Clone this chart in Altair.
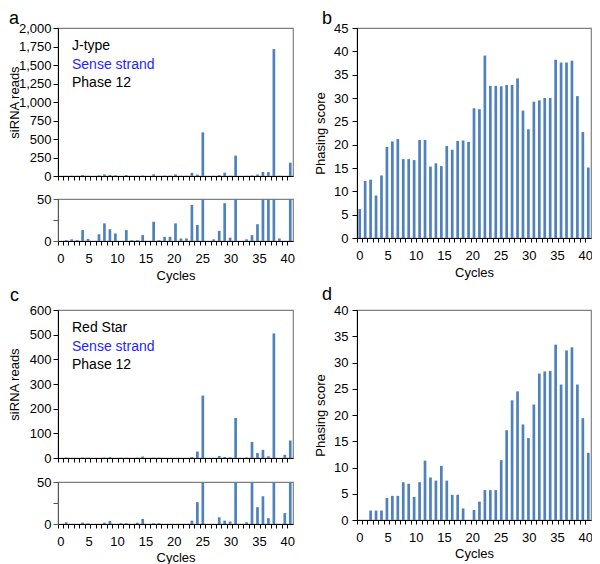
import altair as alt
import pandas as pd

# ---------------- data ----------------
cycle_index = list(range(43))
cycle_labels = [0, 5, 10, 15, 20, 25, 30, 35, 40]

a_reads = [0, 1, 2, 1, 13, 2.5, 0, 8, 21, 14,
           9, 0, 13, 1, 1, 7, 0, 23, 1, 5,
           5, 21, 3, 3, 43, 19, 590, 0, 2, 12,
           45, 4, 275, 0, 2, 7, 20, 55, 52, 1715,
           3, 0, 180]

b_scores = [6.2, 12.2, 12.5, 9.1, 13.4, 19.5, 20.7, 21.2, 16.9, 16.9,
            16.7, 21.0, 21.0, 15.3, 16.0, 15.4, 19.7, 18.9, 20.8, 20.9,
            20.6, 27.8, 27.6, 39.1, 32.6, 32.6, 32.5, 32.8, 32.8, 34.2,
            27.3, 23.3, 29.2, 29.5, 30.0, 30.0, 38.2, 37.6, 37.6, 38.0,
            30.4, 22.7, 15.1]

c_reads = [0, 2, 0, 0, 1.6, 0.8, 0, 0, 1.6, 3.5,
           0, 1, 1, 0, 1.6, 6, 0, 1, 1, 0,
           0, 0, 0, 0, 4, 26, 253, 0, 0, 8,
           4, 3, 162, 0, 2, 65, 20, 33, 7, 505,
           0, 13, 71]

d_scores = [0, 0, 1.8, 1.8, 1.8, 4.2, 4.6, 4.6, 7.2, 6.9,
            4.4, 7.2, 11.3, 8.1, 7.5, 10.3, 7.5, 4.8, 4.8, 2.2,
            0, 1.9, 3.5, 5.7, 5.7, 5.7, 11.4, 17.1, 22.8, 24.5,
            18.2, 15.6, 22.0, 27.9, 28.3, 28.4, 33.4, 25.8, 32.3, 32.9,
            25.8, 19.4, 12.8]

a_lines = ["J-type", "Sense strand", "Phase 12"]
c_lines = ["Red Star", "Sense strand", "Phase 12"]
line_colors = ["black", "#1f1fff", "black"]

BAR = "#4f81bd"
FONT = "Liberation Sans"
W_LEFT = 235
W_RIGHT = 234


def bar_layer(values, domain, yvalues, clamp=False, ytitle=None, title_x=-50,
              label_pad=2, label_expr=None, ydomain_color="black", fmt=None):
    df = pd.DataFrame({"idx": cycle_index, "v": values})
    yaxis_kw = dict(values=yvalues, tickSize=5, labelPadding=label_pad,
                    domainColor=ydomain_color, tickColor=ydomain_color, grid=False)
    if ytitle:
        yaxis_kw.update(title=ytitle, titleX=title_x, titleBaseline="top", titleAngle=-90)
    else:
        yaxis_kw.update(title=None)
    if label_expr:
        yaxis_kw.update(labelExpr=label_expr)
    if fmt:
        yaxis_kw.update(format=fmt)
    return alt.Chart(df).mark_bar(size=2.7, color=BAR).encode(
        x=alt.X("idx:O",
                scale=alt.Scale(paddingInner=0, paddingOuter=0),
                axis=alt.Axis(orient="bottom", labels=False, title=None, ticks=True,
                              tickSize=4, bandPosition=0, domainColor="black",
                              tickColor="black", domainWidth=1)),
        y=alt.Y("v:Q", scale=alt.Scale(domain=domain, clamp=clamp, nice=False, zero=True),
                axis=alt.Axis(**yaxis_kw)),
    )


def label_layer(title_pad=4):
    df = pd.DataFrame({"c": cycle_labels})
    return alt.Chart(df).mark_tick(opacity=0).encode(
        x=alt.X("c:Q",
                scale=alt.Scale(domain=[-0.4, 41.0], nice=False, zero=False),
                axis=alt.Axis(orient="bottom", values=cycle_labels, ticks=False, tickSize=0,
                              domain=False, labelPadding=11, title="Cycles",
                              titlePadding=title_pad, grid=False))
    )


def text_layers(lines):
    out = []
    for i, (t, col) in enumerate(zip(lines, line_colors)):
        out.append(alt.Chart(pd.DataFrame({"t": [t]})).mark_text(
            align="left", baseline="alphabetic", font=FONT, fontSize=14, color=col
        ).encode(x=alt.value(14), y=alt.value([22, 40.5, 59][i]), text="t:N"))
    return out


def letter(ch, x, y):
    return alt.Chart(pd.DataFrame({"t": [ch]})).mark_text(
        align="left", baseline="alphabetic", font=FONT, fontSize=18, color="black"
    ).encode(x=alt.value(x), y=alt.value(y), text="t:N")


# ---- panel a ----
a_up = alt.layer(
    bar_layer(a_reads, [0, 2000], list(range(0, 2001, 250)), ytitle="siRNA reads",
              title_x=-50, fmt=",d"),
    *text_layers(a_lines),
    letter("a", -49, -4),
).properties(width=W_LEFT, height=148)

a_low = alt.layer(
    bar_layer(a_reads, [0, 50], [0, 25, 50], clamp=True,
              label_expr="datum.value == 25 ? '' : datum.label", ydomain_color="#555555"),
    label_layer(),
).resolve_scale(x="independent").properties(width=W_LEFT, height=42)

# ---- panel b ----
b_panel = alt.layer(
    bar_layer(b_scores, [0, 45], list(range(0, 46, 5)), ytitle="Phasing score",
              title_x=-43, label_pad=4),
    label_layer(),
    letter("b", -35, -4),
).resolve_scale(x="independent").properties(width=W_RIGHT, height=210)

# ---- panel c ----
c_up = alt.layer(
    bar_layer(c_reads, [0, 600], list(range(0, 601, 100)), ytitle="siRNA reads",
              title_x=-50),
    *text_layers(c_lines),
    letter("c", -48, -9),
).properties(width=W_LEFT, height=148)

c_low = alt.layer(
    bar_layer(c_reads, [0, 50], [0, 25, 50], clamp=True,
              label_expr="datum.value == 25 ? '' : datum.label", ydomain_color="#555555"),
    label_layer(title_pad=3),
).resolve_scale(x="independent").properties(width=W_LEFT, height=42)

# ---- panel d ----
d_panel = alt.layer(
    bar_layer(d_scores, [0, 40], list(range(0, 41, 5)), ytitle="Phasing score",
              title_x=-43, label_pad=4),
    label_layer(title_pad=3),
    letter("d", -35, -10),
).resolve_scale(x="independent").properties(width=W_RIGHT, height=210)

col_a = alt.vconcat(a_up, a_low, spacing=8)
row1 = alt.hconcat(col_a, b_panel, spacing=17)
col_c = alt.vconcat(c_up, c_low, spacing=9)
row2 = alt.hconcat(col_c, d_panel, spacing=17)

chart = alt.vconcat(row1, row2, spacing=2).properties(
    autosize=alt.AutoSizeParams(type="none"),
    padding={"top": 20, "left": 50, "right": 534, "bottom": 536},
    background="white",
).configure_view(
    stroke="#808080", strokeWidth=1.2
).configure_axis(
    labelFont=FONT, titleFont=FONT, labelFontSize=13, titleFontSize=13,
    titleFontWeight="normal", labelColor="black", titleColor="black", grid=False
)

chart.save("out.html", embed_options={"renderer": "svg", "actions": False})
